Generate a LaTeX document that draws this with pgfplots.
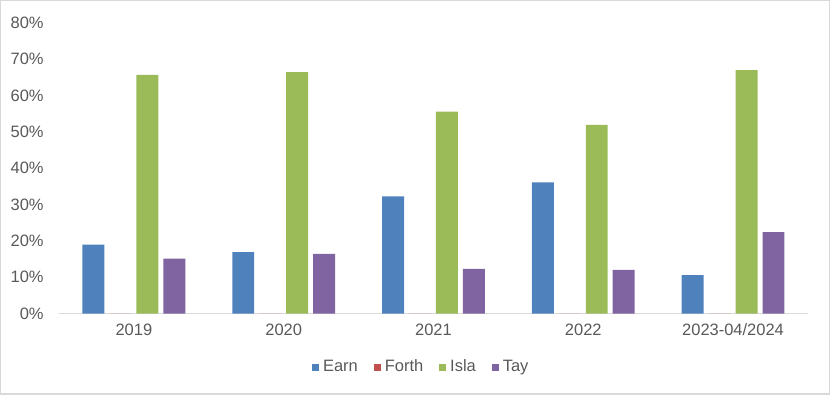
\documentclass[border=0pt]{standalone}
\usepackage{pgfplots}
\pgfplotsset{compat=1.18}
\usepackage{fontspec}
\setmainfont{Liberation Sans}
\definecolor{earn}{HTML}{4F81BD}
\definecolor{forth}{HTML}{C0504D}
\definecolor{isla}{HTML}{9BBB59}
\definecolor{tay}{HTML}{8064A2}
\definecolor{txt}{HTML}{595959}
\definecolor{frame}{HTML}{D9D9D9}
\begin{document}
\begin{tikzpicture}
\begin{axis}[
  scale only axis, width=375pt, height=145.75pt,
  xmin=-0.5, xmax=4.5, ymin=0, ymax=80,
  ybar=2.5pt, bar width=11pt,
  axis x line*=bottom, axis y line*=left,
  x axis line style={frame, line width=0.6pt},
  y axis line style={draw=none},
  major tick length=0pt,
  xtick={0,1,2,3,4},
  xticklabels={2019,2020,2021,2022,2023-04/2024},
  ytick={0,10,20,30,40,50,60,70,80},
  yticklabel={\pgfmathprintnumber{\tick}\%},
  /pgf/number format/assume math mode=true,
  font=\fontsize{8.25}{10}\selectfont,
  tick label style={color=txt},
  yticklabel style={inner sep=0pt, anchor=east, xshift=-7.5pt},
  xticklabel style={inner sep=0pt, anchor=north, yshift=-5pt},
  legend style={at={(0.485,-0.184)}, anchor=center, draw=none, fill=none,
    legend columns=4, font=\fontsize{8.25}{10}\selectfont, text=txt,
    /tikz/every even column/.append style={column sep=6pt},
    inner sep=0pt, row sep=0pt},
  legend image code/.code={\fill[#1] (0pt,-1.75pt) rectangle (3.5pt,1.75pt);},
  legend cell align=left,
]
\coordinate (sw) at (rel axis cs:0,0);
\addplot[fill=earn, draw=none] coordinates {(0,19.0) (1,16.9) (2,32.2) (3,36.1) (4,10.6)};
\addplot[fill=forth, draw=none] coordinates {(0,0) (1,0) (2,0) (3,0) (4,0)};
\addplot[fill=isla, draw=none] coordinates {(0,65.6) (1,66.4) (2,55.5) (3,51.9) (4,66.9)};
\addplot[fill=tay, draw=none] coordinates {(0,15.1) (1,16.4) (2,12.3) (3,12.0) (4,22.4)};
\legend{Earn,Forth,Isla,Tay}
\end{axis}
\pgfresetboundingbox
\draw[frame, line width=0.6pt] ([shift={(-29.25pt,-40.25pt)}]sw) rectangle ([shift={(385.75pt,156.75pt)}]sw);
\useasboundingbox ([shift={(-29.5pt,-40.5pt)}]sw) rectangle ([shift={(385.5pt,156.5pt)}]sw);
\end{tikzpicture}
\end{document}
